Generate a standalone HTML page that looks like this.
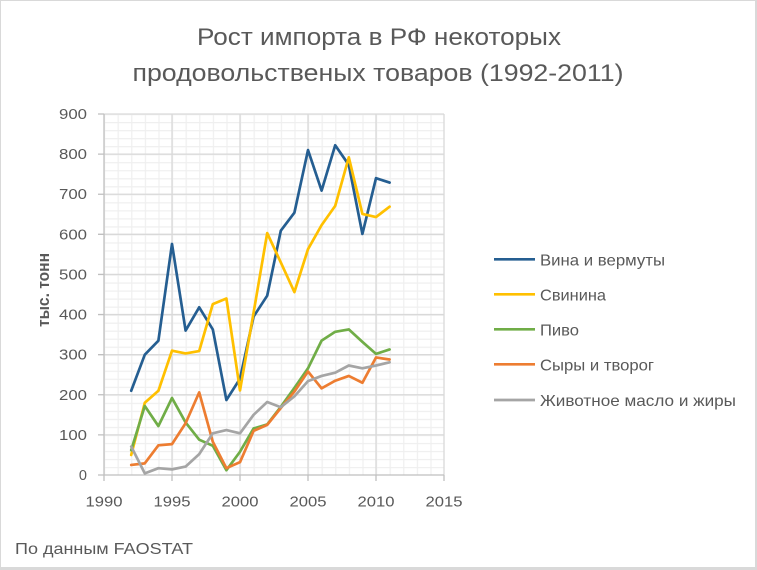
<!DOCTYPE html>
<html><head><meta charset="utf-8"><style>
html,body{margin:0;padding:0;background:#fff;}
svg{display:block;}
text{font-family:"Liberation Sans","DejaVu Sans",sans-serif;fill:#595959;}
</style></head><body>
<svg width="757" height="570" viewBox="0 0 757 570" xmlns="http://www.w3.org/2000/svg">
<defs>
<pattern id="mg" patternUnits="userSpaceOnUse" x="104" y="114" width="13.6" height="8.0222">
<rect x="0" y="0" width="13.6" height="1.2" fill="#efefef"/>
<rect x="0" y="0" width="1.2" height="8.0222" fill="#efefef"/>
</pattern>
</defs>
<rect x="0" y="0" width="757" height="570" fill="#d9d9d9"/>
<rect x="1" y="1" width="754" height="566" fill="#ffffff"/>

<!-- title -->
<text x="379" y="45" font-size="24" text-anchor="middle" textLength="364" lengthAdjust="spacingAndGlyphs">Рост импорта в РФ некоторых</text>
<text x="378" y="81" font-size="24" text-anchor="middle" textLength="491" lengthAdjust="spacingAndGlyphs">продовольственых товаров (1992-2011)</text>

<!-- minor grid -->
<rect x="104" y="114" width="340" height="361" fill="url(#mg)"/>
<!-- major grid -->
<g stroke="#d9d9d9" stroke-width="1.3" fill="none">
<path d="M104 114H444M104 154.11H444M104 194.22H444M104 234.33H444M104 274.44H444M104 314.56H444M104 354.67H444M104 394.78H444M104 434.89H444"/>
<path d="M172 114V475M240 114V475M308 114V475M376 114V475M444 114V475"/>
</g>
<!-- axes -->
<g stroke="#bfbfbf" stroke-width="1.3" fill="none">
<path d="M104 114V475H444"/>
<path d="M98 114H104M98 154.11H104M98 194.22H104M98 234.33H104M98 274.44H104M98 314.56H104M98 354.67H104M98 394.78H104M98 434.89H104M98 475H104"/>
<path d="M104 475V481M172 475V481M240 475V481M308 475V481M376 475V481M444 475V481"/>
</g>

<!-- y labels -->
<g font-size="14.5" text-anchor="end">
<text x="87" y="119" textLength="28" lengthAdjust="spacingAndGlyphs">900</text>
<text x="87" y="159.1" textLength="28" lengthAdjust="spacingAndGlyphs">800</text>
<text x="87" y="199.2" textLength="28" lengthAdjust="spacingAndGlyphs">700</text>
<text x="87" y="239.3" textLength="28" lengthAdjust="spacingAndGlyphs">600</text>
<text x="87" y="279.4" textLength="28" lengthAdjust="spacingAndGlyphs">500</text>
<text x="87" y="319.6" textLength="28" lengthAdjust="spacingAndGlyphs">400</text>
<text x="87" y="359.7" textLength="28" lengthAdjust="spacingAndGlyphs">300</text>
<text x="87" y="399.8" textLength="28" lengthAdjust="spacingAndGlyphs">200</text>
<text x="87" y="439.9" textLength="28" lengthAdjust="spacingAndGlyphs">100</text>
<text x="87" y="480">0</text>
</g>
<!-- x labels -->
<g font-size="15" text-anchor="middle">
<text x="104" y="506.5" textLength="37" lengthAdjust="spacingAndGlyphs">1990</text>
<text x="172" y="506.5" textLength="37" lengthAdjust="spacingAndGlyphs">1995</text>
<text x="240" y="506.5" textLength="37" lengthAdjust="spacingAndGlyphs">2000</text>
<text x="308" y="506.5" textLength="37" lengthAdjust="spacingAndGlyphs">2005</text>
<text x="376" y="506.5" textLength="37" lengthAdjust="spacingAndGlyphs">2010</text>
<text x="444" y="506.5" textLength="37" lengthAdjust="spacingAndGlyphs">2015</text>
</g>
<!-- y title -->
<text transform="translate(49,290) rotate(-90)" font-size="16.5" font-weight="bold" text-anchor="middle" textLength="74" lengthAdjust="spacingAndGlyphs">тыс. тонн</text>

<!-- series -->
<g fill="none" stroke-width="2.7" stroke-linejoin="round" stroke-linecap="round">
<polyline stroke="#255e91" points="131.2,390.77 144.8,354.67 158.4,340.63 172,243.96 185.6,330.6 199.2,307.34 212.8,329.4 226.4,399.99 240,378.73 253.6,316.56 267.2,295.7 280.8,230.72 294.4,212.67 308,150.1 321.6,190.61 335.2,145.29 348.8,164.94 362.4,233.93 376,178.18 389.6,182.59"/>
<polyline stroke="#ffc000" points="131.2,454.94 144.8,402.8 158.4,390.77 172,350.66 185.6,353.46 199.2,351.06 212.8,304.13 226.4,298.51 240,390.37 253.6,312.55 267.2,233.13 280.8,262.41 294.4,292.09 308,249.18 321.6,225.11 335.2,205.86 348.8,157.32 362.4,213.88 376,217.09 389.6,206.66"/>
<polyline stroke="#70ad47" points="131.2,450.13 144.8,406.01 158.4,426.06 172,397.99 185.6,422.45 199.2,439.7 212.8,445.72 226.4,470.19 240,451.74 253.6,428.47 267.2,424.46 280.8,406.81 294.4,387.96 308,368.3 321.6,340.63 335.2,331.8 348.8,329.4 362.4,341.83 376,353.86 389.6,349.45"/>
<polyline stroke="#ed7d31" points="131.2,464.97 144.8,463.37 158.4,445.32 172,444.11 185.6,423.26 199.2,392.37 212.8,441.71 226.4,468.18 240,462.16 253.6,430.88 267.2,424.86 280.8,408.01 294.4,391.57 308,371.51 321.6,388.36 335.2,380.74 348.8,375.93 362.4,382.74 376,357.47 389.6,359.48"/>
<polyline stroke="#a5a5a5" points="131.2,446.52 144.8,473.4 158.4,468.18 172,469.38 185.6,466.58 199.2,454.14 212.8,433.28 226.4,430.08 240,433.28 253.6,414.83 267.2,402 280.8,407.21 294.4,396.38 308,381.14 321.6,375.93 335.2,372.72 348.8,365.5 362.4,368.3 376,365.5 389.6,362.29"/>
</g>

<!-- legend -->
<g stroke-width="2.7" fill="none">
<path stroke="#255e91" d="M494 259.3H535"/>
<path stroke="#ffc000" d="M494 294.3H535"/>
<path stroke="#70ad47" d="M494 329.3H535"/>
<path stroke="#ed7d31" d="M494 364.3H535"/>
<path stroke="#a5a5a5" d="M494 400H535"/>
</g>
<g font-size="16">
<text x="540" y="265.5" textLength="125" lengthAdjust="spacingAndGlyphs">Вина и вермуты</text>
<text x="540" y="300.5" textLength="66" lengthAdjust="spacingAndGlyphs">Свинина</text>
<text x="540" y="335.5" textLength="39" lengthAdjust="spacingAndGlyphs">Пиво</text>
<text x="540" y="370.5" textLength="114" lengthAdjust="spacingAndGlyphs">Сыры и творог</text>
<text x="540" y="406.2" textLength="196" lengthAdjust="spacingAndGlyphs">Животное масло и жиры</text>
</g>

<!-- footnote -->
<text x="15" y="554" font-size="16" textLength="178" lengthAdjust="spacingAndGlyphs">По данным FAOSTAT</text>
</svg>
</body></html>
